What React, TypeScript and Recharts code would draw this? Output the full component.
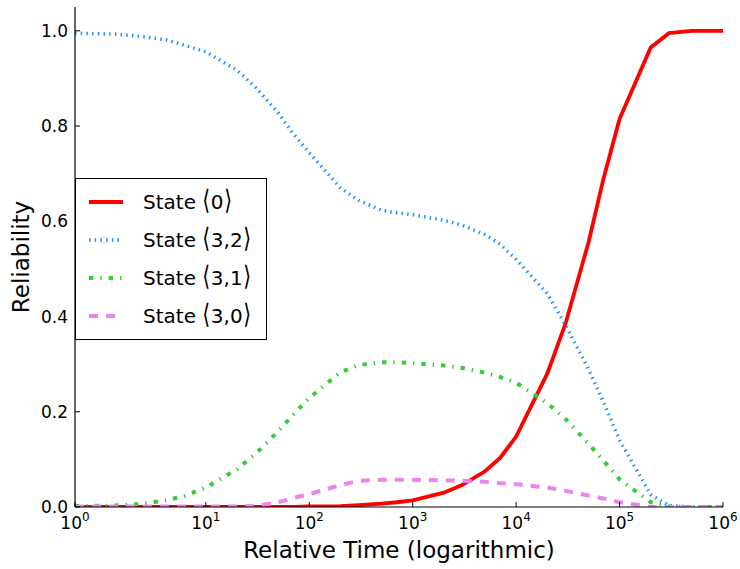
import React from "react";
import { Legend, Line, LineChart, XAxis, YAxis } from "recharts";

const times = [
  1, 2, 3, 5, 7, 10, 20, 30, 50, 70, 100, 200, 300, 500, 700, 1e3, 2e3, 3e3,
  5e3, 7e3, 1e4, 2e4, 3e4, 5e4, 7e4, 1e5, 2e5, 3e5, 5e5, 7e5, 1e6,
];
const state0 = [
  0, 0, 0, 0, 0, 0, 0, 0, 0, 0, 0.001, 0.002, 0.004, 0.007, 0.01, 0.014, 0.03,
  0.046, 0.075, 0.103, 0.148, 0.28, 0.385, 0.555, 0.69, 0.815, 0.965, 0.995, 1,
  1, 1,
];
const state32 = [
  0.995, 0.993, 0.989, 0.981, 0.969, 0.956, 0.917, 0.882, 0.828, 0.784, 0.744,
  0.67, 0.644, 0.623, 0.618, 0.614, 0.602, 0.592, 0.572, 0.552, 0.52, 0.448,
  0.382, 0.29, 0.22, 0.14, 0.026, 0.003, 0, 0, 0,
];
const state31 = [
  0.002, 0.003, 0.006, 0.014, 0.024, 0.041, 0.079, 0.111, 0.159, 0.194, 0.229,
  0.283, 0.298, 0.304, 0.304, 0.302, 0.297, 0.292, 0.282, 0.273, 0.261, 0.218,
  0.185, 0.133, 0.097, 0.058, 0.01, 0.001, 0, 0, 0,
];
const state30 = [
  0.001, 0.001, 0.001, 0.001, 0.001, 0.001, 0.001, 0.002, 0.01, 0.019, 0.027,
  0.046, 0.055, 0.057, 0.057, 0.057, 0.056, 0.055, 0.053, 0.05, 0.048, 0.041,
  0.034, 0.024, 0.018, 0.01, 0, 0, 0, 0, 0,
];
const xTicks = [1, 10, 100, 1e3, 1e4, 1e5, 1e6];
const yTicks = [0, 0.2, 0.4, 0.6, 0.8, 1.0];

const FONT = "'DejaVu Sans', sans-serif";

const series = [
  { key: "s0", state: "0", color: "#ff0000", width: 3.8, dash: undefined },
  { key: "s32", state: "3,2", color: "#1e90ff", width: 3.5, dash: "1.5 4.2" },
  { key: "s31", state: "3,1", color: "#32cd32", width: 4, dash: "4.3 7 1.4 7" },
  { key: "s30", state: "3,0", color: "#ee82ee", width: 4, dash: "9 8" },
];

const data = times.map((t, i) => ({
  t,
  s0: state0[i],
  s32: state32[i],
  s31: state31[i],
  s30: state30[i],
}));

// the reference axis gives the first decade (10^0..10^1) more room than the rest
const FIRST_DECADE = 1.265;
const warp = (t: number) => {
  const l = Math.log10(Math.max(t, 1e-9));
  return l <= 1 ? l * FIRST_DECADE : FIRST_DECADE + l - 1;
};
const unwarp = (u: number) =>
  u <= FIRST_DECADE ? Math.pow(10, u / FIRST_DECADE) : Math.pow(10, u - FIRST_DECADE + 1);

function stretchedLog(dom: number[] = [1, 1e6], rng: number[] = [0, 1]): any {
  const scale: any = (t: number) => {
    const u0 = warp(dom[0]);
    const u1 = warp(dom[1]);
    return rng[0] + ((warp(t) - u0) / (u1 - u0)) * (rng[1] - rng[0]);
  };
  scale.domain = (d?: any[]) => {
    if (d === undefined) return dom.slice();
    dom = d.map(Number);
    return scale;
  };
  scale.range = (r?: any[]) => {
    if (r === undefined) return rng.slice();
    rng = r.map(Number);
    return scale;
  };
  scale.invert = (px: number) => {
    const u0 = warp(dom[0]);
    const u1 = warp(dom[1]);
    return unwarp(u0 + ((px - rng[0]) / (rng[1] - rng[0])) * (u1 - u0));
  };
  scale.ticks = () => xTicks;
  scale.copy = () => stretchedLog(dom.slice(), rng.slice());
  return scale;
}

const PowerTick = (props: any) => {
  const { x, y, payload } = props;
  const exp = Math.round(Math.log10(payload.value));
  return (
    <text x={x} y={y + 22} textAnchor="middle" fontFamily={FONT} fontSize={17} fill="#000">
      <tspan>10</tspan>
      <tspan dy={-8} fontSize={12}>
        {exp}
      </tspan>
    </text>
  );
};

const bracket: React.CSSProperties = {
  fontSize: 27,
  lineHeight: "20px",
  display: "inline-block",
  transform: "scaleX(0.75)",
  margin: "0 -1px",
};

const LegendBox = () => (
  <div
    style={{
      border: "1px solid #000",
      background: "#fff",
      width: 190,
      height: 152,
      boxSizing: "content-box",
      fontFamily: FONT,
      fontSize: 20,
      paddingTop: 4,
      paddingBottom: 4,
    }}
  >
    {series.map((s) => (
      <div key={s.key} style={{ display: "flex", alignItems: "center", height: 38 }}>
        <svg width={36} height={10} style={{ marginLeft: 12 }}>
          <line
            x1={1}
            x2={35}
            y1={5}
            y2={5}
            stroke={s.color}
            strokeWidth={s.width}
            strokeDasharray={s.dash}
          />
        </svg>
        <span style={{ marginLeft: 19, whiteSpace: "nowrap" }}>
          State <span style={bracket}>{"\u27E8"}</span>
          {s.state}
          <span style={bracket}>{"\u27E9"}</span>
        </span>
      </div>
    ))}
  </div>
);

export default function App() {
  return (
    <div style={{ position: "absolute", left: 0, top: 0, fontFamily: FONT }}>
      <LineChart
        width={740}
        height={569}
        data={data}
        margin={{ top: 7, right: 17, bottom: 0, left: 0 }}
      >
        <XAxis
          dataKey="t"
          type="number"
          scale={stretchedLog()}
          domain={[1, 1e6]}
          allowDataOverflow
          ticks={xTicks}
          interval={0}
          height={62}
          tickSize={-5}
          tickMargin={5}
          tick={<PowerTick />}
          stroke="#000"
          axisLine={{ stroke: "#000", strokeWidth: 1.2 }}
          tickLine={{ stroke: "#000" }}
          label={(props: any) => {
            const vb = props.viewBox;
            return (
              <text
                x={vb.x + vb.width / 2}
                y={558}
                textAnchor="middle"
                fontFamily={FONT}
                fontSize={23}
                fill="#000"
              >
                Relative Time (logarithmic)
              </text>
            );
          }}
        />
        <XAxis
          xAxisId="top"
          orientation="top"
          dataKey="t"
          type="number"
          scale={stretchedLog()}
          domain={[1, 1e6]}
          allowDataOverflow
          ticks={xTicks}
          interval={0}
          height={0}
          tickSize={-5}
          tick={false}
          axisLine={{ stroke: "#000", strokeWidth: 1.2 }}
          tickLine={{ stroke: "#000" }}
        />
        <YAxis
          type="number"
          domain={[0, 1.05]}
          allowDataOverflow
          ticks={yTicks}
          interval={0}
          width={75}
          tickSize={-5}
          tickMargin={12}
          tickFormatter={(v: number) => v.toFixed(1)}
          tick={{ fill: "#000", fontSize: 17, fontFamily: FONT }}
          axisLine={{ stroke: "#000", strokeWidth: 1.2 }}
          tickLine={{ stroke: "#000" }}
          label={(props: any) => {
            const vb = props.viewBox;
            const cy = vb.y + vb.height / 2;
            return (
              <text
                x={29}
                y={cy}
                transform={`rotate(-90, 29, ${cy})`}
                textAnchor="middle"
                fontFamily={FONT}
                fontSize={23}
                fill="#000"
              >
                Reliability
              </text>
            );
          }}
        />
        <YAxis
          yAxisId="right"
          orientation="right"
          type="number"
          domain={[0, 1.05]}
          allowDataOverflow
          ticks={yTicks}
          interval={0}
          width={0}
          tickSize={-5}
          tick={false}
          axisLine={{ stroke: "#000", strokeWidth: 1.2 }}
          tickLine={{ stroke: "#000" }}
        />
        {series.map((s) => (
          <Line
            key={s.key}
            dataKey={s.key}
            name={`State \u27E8${s.state}\u27E9`}
            type="linear"
            stroke={s.color}
            strokeWidth={s.width}
            strokeDasharray={s.dash}
            dot={false}
            activeDot={false}
            isAnimationActive={false}
          />
        ))}
        <Legend
          layout="vertical"
          align="center"
          verticalAlign="middle"
          content={<LegendBox />}
          wrapperStyle={{ left: 75, top: 178, width: 192 }}
        />
      </LineChart>
    </div>
  );
}
